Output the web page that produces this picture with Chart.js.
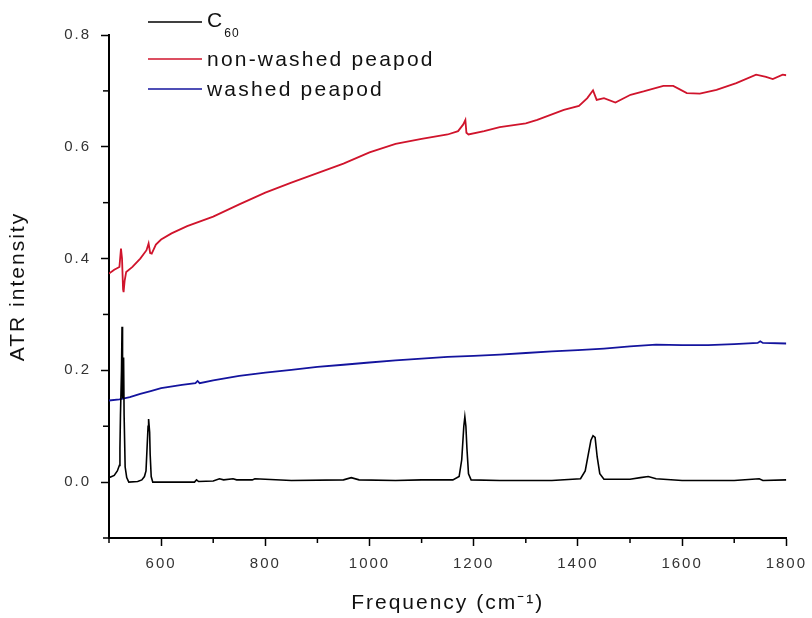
<!DOCTYPE html>
<html>
<head>
<meta charset="utf-8">
<script src="https://cdn.jsdelivr.net/npm/chart.js@4.4.1/dist/chart.umd.min.js"></script>
<style>
    body { margin: 0; background: #fff; }
    #caixa { width: 812px; height: 618px; }
</style>
</head>
<body>
<div id="caixa"><canvas id="graficoATR" width="812" height="618"></canvas></div>
<script>

// C60 (preto)
const freqC60 = [500, 510, 516, 520, 521, 522, 524, 525, 526, 528, 529, 531, 534, 538, 555, 563, 568, 571, 573, 575, 576, 578, 579, 581, 584, 620, 664, 668, 672, 700, 712, 720, 738, 745, 775, 780, 850, 950, 965, 980, 1050, 1100, 1160, 1172, 1177, 1181, 1183, 1185, 1187, 1190, 1195, 1250, 1350, 1405, 1414, 1420, 1425, 1429, 1433, 1437, 1442, 1450, 1500, 1520, 1535, 1550, 1600, 1700, 1748, 1755, 1800];
const intC60 = [0.008, 0.012, 0.02, 0.03, 0.06, 0.12, 0.2, 0.278, 0.15, 0.223, 0.12, 0.027, 0.008, 0.0, 0.001, 0.004, 0.01, 0.02, 0.06, 0.1, 0.113, 0.089, 0.05, 0.01, 0.0, 0.0, 0.0, 0.004, 0.001, 0.002, 0.006, 0.004, 0.006, 0.004, 0.004, 0.006, 0.003, 0.004, 0.008, 0.004, 0.003, 0.004, 0.004, 0.01, 0.04, 0.1, 0.117, 0.1, 0.06, 0.015, 0.004, 0.003, 0.003, 0.006, 0.02, 0.05, 0.075, 0.083, 0.08, 0.045, 0.015, 0.005, 0.005, 0.008, 0.01, 0.006, 0.003, 0.003, 0.006, 0.003, 0.004];

// peapod nao lavado (vermelho)
const freqNaoLavado = [500, 510, 520, 523, 525, 527, 528, 530, 533, 545, 560, 572, 576, 579, 582, 590, 600, 620, 650, 700, 750, 800, 850, 900, 950, 1000, 1050, 1100, 1150, 1170, 1180, 1184, 1186, 1190, 1220, 1250, 1300, 1322, 1373, 1402, 1418, 1429, 1436, 1450, 1472, 1501, 1526, 1564, 1583, 1609, 1634, 1666, 1704, 1742, 1761, 1774, 1793, 1800];
const intNaoLavado = [0.373, 0.38, 0.385, 0.418, 0.40, 0.345, 0.34, 0.36, 0.376, 0.385, 0.40, 0.415, 0.427, 0.41, 0.409, 0.425, 0.434, 0.445, 0.458, 0.475, 0.497, 0.518, 0.536, 0.553, 0.57, 0.59, 0.605, 0.614, 0.622, 0.628, 0.64, 0.648, 0.625, 0.622, 0.628, 0.635, 0.642, 0.648, 0.666, 0.673, 0.687, 0.701, 0.684, 0.687, 0.679, 0.693, 0.699, 0.709, 0.709, 0.696, 0.695, 0.702, 0.714, 0.729, 0.725, 0.721, 0.729, 0.728];

// peapod lavado (azul)
const freqLavado = [500, 520, 540, 560, 580, 600, 640, 666, 670, 674, 700, 750, 800, 850, 900, 950, 1000, 1050, 1100, 1150, 1200, 1250, 1300, 1350, 1400, 1450, 1500, 1550, 1600, 1650, 1700, 1745, 1750, 1755, 1800];
const intLavado = [0.146, 0.148, 0.152, 0.158, 0.163, 0.168, 0.174, 0.177, 0.181, 0.177, 0.182, 0.19, 0.196, 0.201, 0.206, 0.21, 0.214, 0.218, 0.221, 0.224, 0.226, 0.228, 0.231, 0.234, 0.236, 0.239, 0.243, 0.246, 0.245, 0.245, 0.247, 0.249, 0.252, 0.249, 0.248];

const rotulos = ['C60', 'non-washed peapod', 'washed peapod'];
const cores = ['#000000', '#d0142c', '#14149e'];

const tituloX = 'Frequency (cm\u207B\u00B9)';
const tituloY = 'ATR intensity';

function juntar(xs, ys) {
    return xs.map((x, i) => ({ x: x, y: ys[i] }));
}

// ticks menores (curtos) e legenda desenhada a mao
const extras = {

    id: 'extras',

    beforeDraw(chart) {
        chart.ctx.letterSpacing = '2px';
    },

    afterDraw(chart) {

        const ctx = chart.ctx;

        ctx.save();
        ctx.strokeStyle = '#000';
        ctx.lineWidth = 1.5;

        const escX = chart.scales.x;
        escX.ticks.forEach(t => {
            if (t.value % 200 !== 0) {
                const px = escX.getPixelForValue(t.value);
                ctx.beginPath();
                ctx.moveTo(px, escX.top);
                ctx.lineTo(px, escX.top + 5);
                ctx.stroke();
            }
        });

        const escY = chart.scales.y;
        escY.ticks.forEach(t => {
            if (Math.round(t.value * 10) % 2 !== 0) {
                const py = escY.getPixelForValue(t.value);
                ctx.beginPath();
                ctx.moveTo(escY.right, py);
                ctx.lineTo(escY.right - 6, py);
                ctx.stroke();
            }
        });

        // legenda
        const linhas = [22, 59, 89];
        ctx.letterSpacing = '2.2px';
        ctx.textBaseline = 'alphabetic';
        ctx.textAlign = 'left';
        ctx.fillStyle = '#111';

        chart.data.datasets.forEach((ds, i) => {

            const y = linhas[i];

            ctx.strokeStyle = ds.borderColor;
            ctx.lineWidth = 1.6;
            ctx.beginPath();
            ctx.moveTo(148, y);
            ctx.lineTo(202, y);
            ctx.stroke();

            const m = /^C(\d+)$/.exec(ds.label);
            if (m) {
                ctx.font = '21px "Liberation Sans", Arial, sans-serif';
                ctx.fillText('C', 207, y + 5);
                const w = ctx.measureText('C').width;
                ctx.font = '12px "Liberation Sans", Arial, sans-serif';
                ctx.letterSpacing = '1px';
                ctx.fillText(m[1], 207 + w, y + 15);
                ctx.letterSpacing = '2.2px';
            } else {
                ctx.font = '21px "Liberation Sans", Arial, sans-serif';
                ctx.fillText(ds.label, 207, y + 7);
            }

        });

        ctx.restore();
        ctx.letterSpacing = '0px';
    }
};

document.addEventListener('DOMContentLoaded', function () {

    const contexto = document.getElementById('graficoATR').getContext('2d');

    const fonteTick = { family: '"Liberation Sans", Arial, sans-serif', size: 15 };
    const fonteTitulo = { family: '"Liberation Sans", Arial, sans-serif', size: 21 };

    new Chart(contexto, {

        type: 'line',

        data: {
            datasets: [
                { label: rotulos[0], data: juntar(freqC60, intC60), borderColor: cores[0], borderWidth: 1.6 },
                { label: rotulos[1], data: juntar(freqNaoLavado, intNaoLavado), borderColor: cores[1], borderWidth: 1.8 },
                { label: rotulos[2], data: juntar(freqLavado, intLavado), borderColor: cores[2], borderWidth: 1.8 }
            ]
        },

        plugins: [extras],

        options: {

            responsive: false,
            animation: false,
            devicePixelRatio: 1,

            layout: { padding: { top: 35, right: 22, left: 0, bottom: 0 } },

            elements: {
                point: { radius: 0 },
                line: { tension: 0, fill: false }
            },

            plugins: {
                legend: { display: false },
                tooltip: { enabled: false }
            },

            scales: {

                x: {
                    type: 'linear',
                    min: 500,
                    max: 1800,
                    afterFit: function (escala) { escala.height = 80; },
                    border: { display: true, color: '#000', width: 2 },
                    grid: {
                        drawOnChartArea: false,
                        drawTicks: true,
                        tickLength: 8,
                        tickWidth: 1.5,
                        tickColor: c => (c.tick && c.tick.value % 200 === 0) ? '#000' : 'rgba(0,0,0,0)'
                    },
                    ticks: {
                        stepSize: 100,
                        autoSkip: false,
                        maxRotation: 0,
                        padding: 9,
                        color: '#333',
                        font: fonteTick,
                        callback: v => (v % 200 === 0) ? String(v) : ''
                    },
                    title: {
                        display: true,
                        text: tituloX,
                        color: '#111',
                        font: fonteTitulo,
                        padding: { top: 0, bottom: 2 }
                    }
                },

                y: {
                    min: -0.1,
                    max: 0.8,
                    afterFit: function (escala) { escala.width = 109; },
                    border: { display: true, color: '#000', width: 2 },
                    grid: {
                        drawOnChartArea: false,
                        drawTicks: true,
                        tickLength: 8,
                        tickWidth: 1.5,
                        tickColor: c => (c.tick && Math.round(c.tick.value * 10) % 2 === 0) ? '#000' : 'rgba(0,0,0,0)'
                    },
                    ticks: {
                        stepSize: 0.1,
                        autoSkip: false,
                        padding: 10,
                        color: '#333',
                        font: fonteTick,
                        callback: v => (Math.round(v * 10) % 2 === 0) ? v.toFixed(1) : ''
                    },
                    title: {
                        display: true,
                        text: tituloY,
                        color: '#111',
                        font: fonteTitulo,
                        padding: { top: 6, bottom: 0 }
                    }
                }
            }
        }
    });

});
</script>
</body>
</html>
